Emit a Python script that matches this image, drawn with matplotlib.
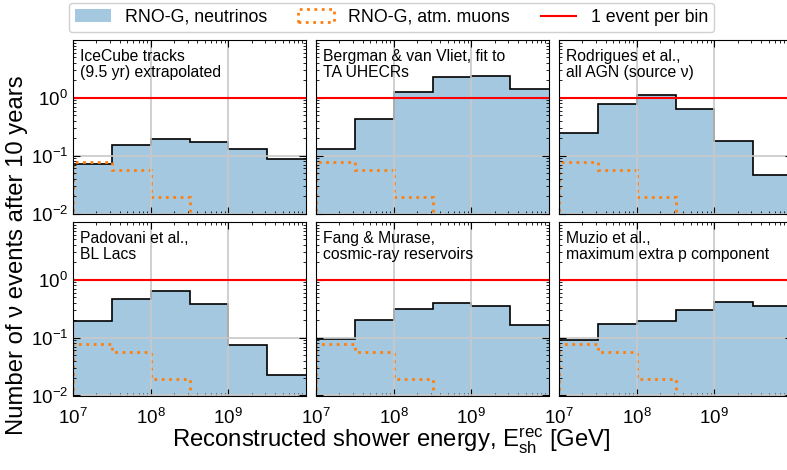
import numpy as np
import matplotlib
matplotlib.use("Agg")
import matplotlib.pyplot as plt
from matplotlib.patches import Patch
from matplotlib.lines import Line2D

plt.rcParams['font.family'] = ['Liberation Sans', 'DejaVu Sans']
plt.rcParams['mathtext.fontset'] = 'custom'
plt.rcParams['mathtext.rm'] = 'Liberation Sans'
plt.rcParams['mathtext.it'] = 'Liberation Sans:italic'
plt.rcParams['mathtext.bf'] = 'Liberation Sans:bold'

# half-decade energy bins [GeV]
log_edges = [7.0, 7.5, 8.0, 8.5, 9.0, 9.5, 10.0]
edges = 10 ** np.array(log_edges)

titles = [
    "IceCube tracks\n(9.5 yr) extrapolated",
    "Bergman & van Vliet, fit to\nTA UHECRs",
    "Rodrigues et al.,\nall AGN (source ν)",
    "Padovani et al.,\nBL Lacs",
    "Fang & Murase,\ncosmic-ray reservoirs",
    "Muzio et al.,\nmaximum extra p component",
]

icecube = [0.073, 0.15, 0.195, 0.171, 0.13, 0.087]
bergman = [0.132, 0.425, 1.27, 2.26, 2.42, 1.45]
rodrigues = [0.251, 0.78, 1.11, 0.65, 0.181, 0.046]
padovani = [0.193, 0.466, 0.63, 0.383, 0.074, 0.0223]
fang = [0.094, 0.201, 0.31, 0.404, 0.354, 0.165]
muzio = [0.09, 0.171, 0.198, 0.298, 0.414, 0.349]
models = [icecube, bergman, rodrigues, padovani, fang, muzio]

# atmospheric muons (zero above 10^8.5 GeV)
muons = [0.077, 0.0575, 0.0193]

fig = plt.figure(figsize=(7.87, 4.70), dpi=100)
W, H = 787.0, 470.0
lefts = [73, 316, 559]
tops = [40, 222]
aw, ah = 233, 173.5

axes = []
for i in range(6):
    r, c = divmod(i, 3)
    ax = fig.add_axes([lefts[c] / W, 1 - (tops[r] + ah) / H, aw / W, ah / H])
    axes.append(ax)
    vals = models[i]
    ax.stairs(vals, edges, fill=True, color='C0', alpha=0.4, baseline=1e-4, lw=0)
    ax.stairs(vals, edges, baseline=None, color='k', lw=1.2)
    ax.stairs(muons, edges[:4], baseline=1e-4, color='C1', ls=':', lw=2)
    ax.axhline(1, color='red', lw=1.5)
    ax.set_xscale('log')
    ax.set_yscale('log')
    ax.set_xlim(1e7, 1e10)
    ax.set_ylim(1e-2, 1e1)
    ax.set_xticks([1e7, 1e8, 1e9])
    ax.set_yticks([1e-2, 1e-1, 1e0])
    ax.grid(True, which='major', color='#c8c8c8', lw=1.2)
    ax.tick_params(which='both', direction='in', top=True, right=True, labelsize=13.5)
    ax.tick_params(which='major', length=5)
    ax.tick_params(which='minor', length=2.5)
    ax.tick_params(axis='x', pad=9)
    if c != 0:
        ax.tick_params(labelleft=False)
    if r == 0:
        ax.tick_params(labelbottom=False)
    ax.text(0.03, 0.95, titles[i], transform=ax.transAxes, va='top', ha='left',
            fontsize=11.3, linespacing=1.12)

fig.text(0.021, 0.458, "Number of ν events after 10 years", rotation=90,
         ha='center', va='center', fontsize=17.2)
fig.text(0.497, 0.062, r"Reconstructed shower energy, $\mathrm{E}_{\mathrm{sh}}^{\mathrm{rec}}$ [GeV]",
         ha='center', va='center', fontsize=17.2)

handles = [Patch(facecolor='C0', alpha=0.4),
           Patch(facecolor='none', edgecolor='C1', ls=':', lw=2),
           Line2D([], [], color='red', lw=1.5)]
labels = ["RNO-G, neutrinos", "RNO-G, atm. muons", "1 event per bin"]
fig.legend(handles, labels, loc='upper center', bbox_to_anchor=(0.4975, 1.0),
           ncol=3, fontsize=12.8, handlelength=2.0, handletextpad=0.8,
           columnspacing=1.75, borderpad=0.35, borderaxespad=0.15,
           framealpha=1, edgecolor='#d0d0d0')

fig.savefig("out.png", dpi=100)
